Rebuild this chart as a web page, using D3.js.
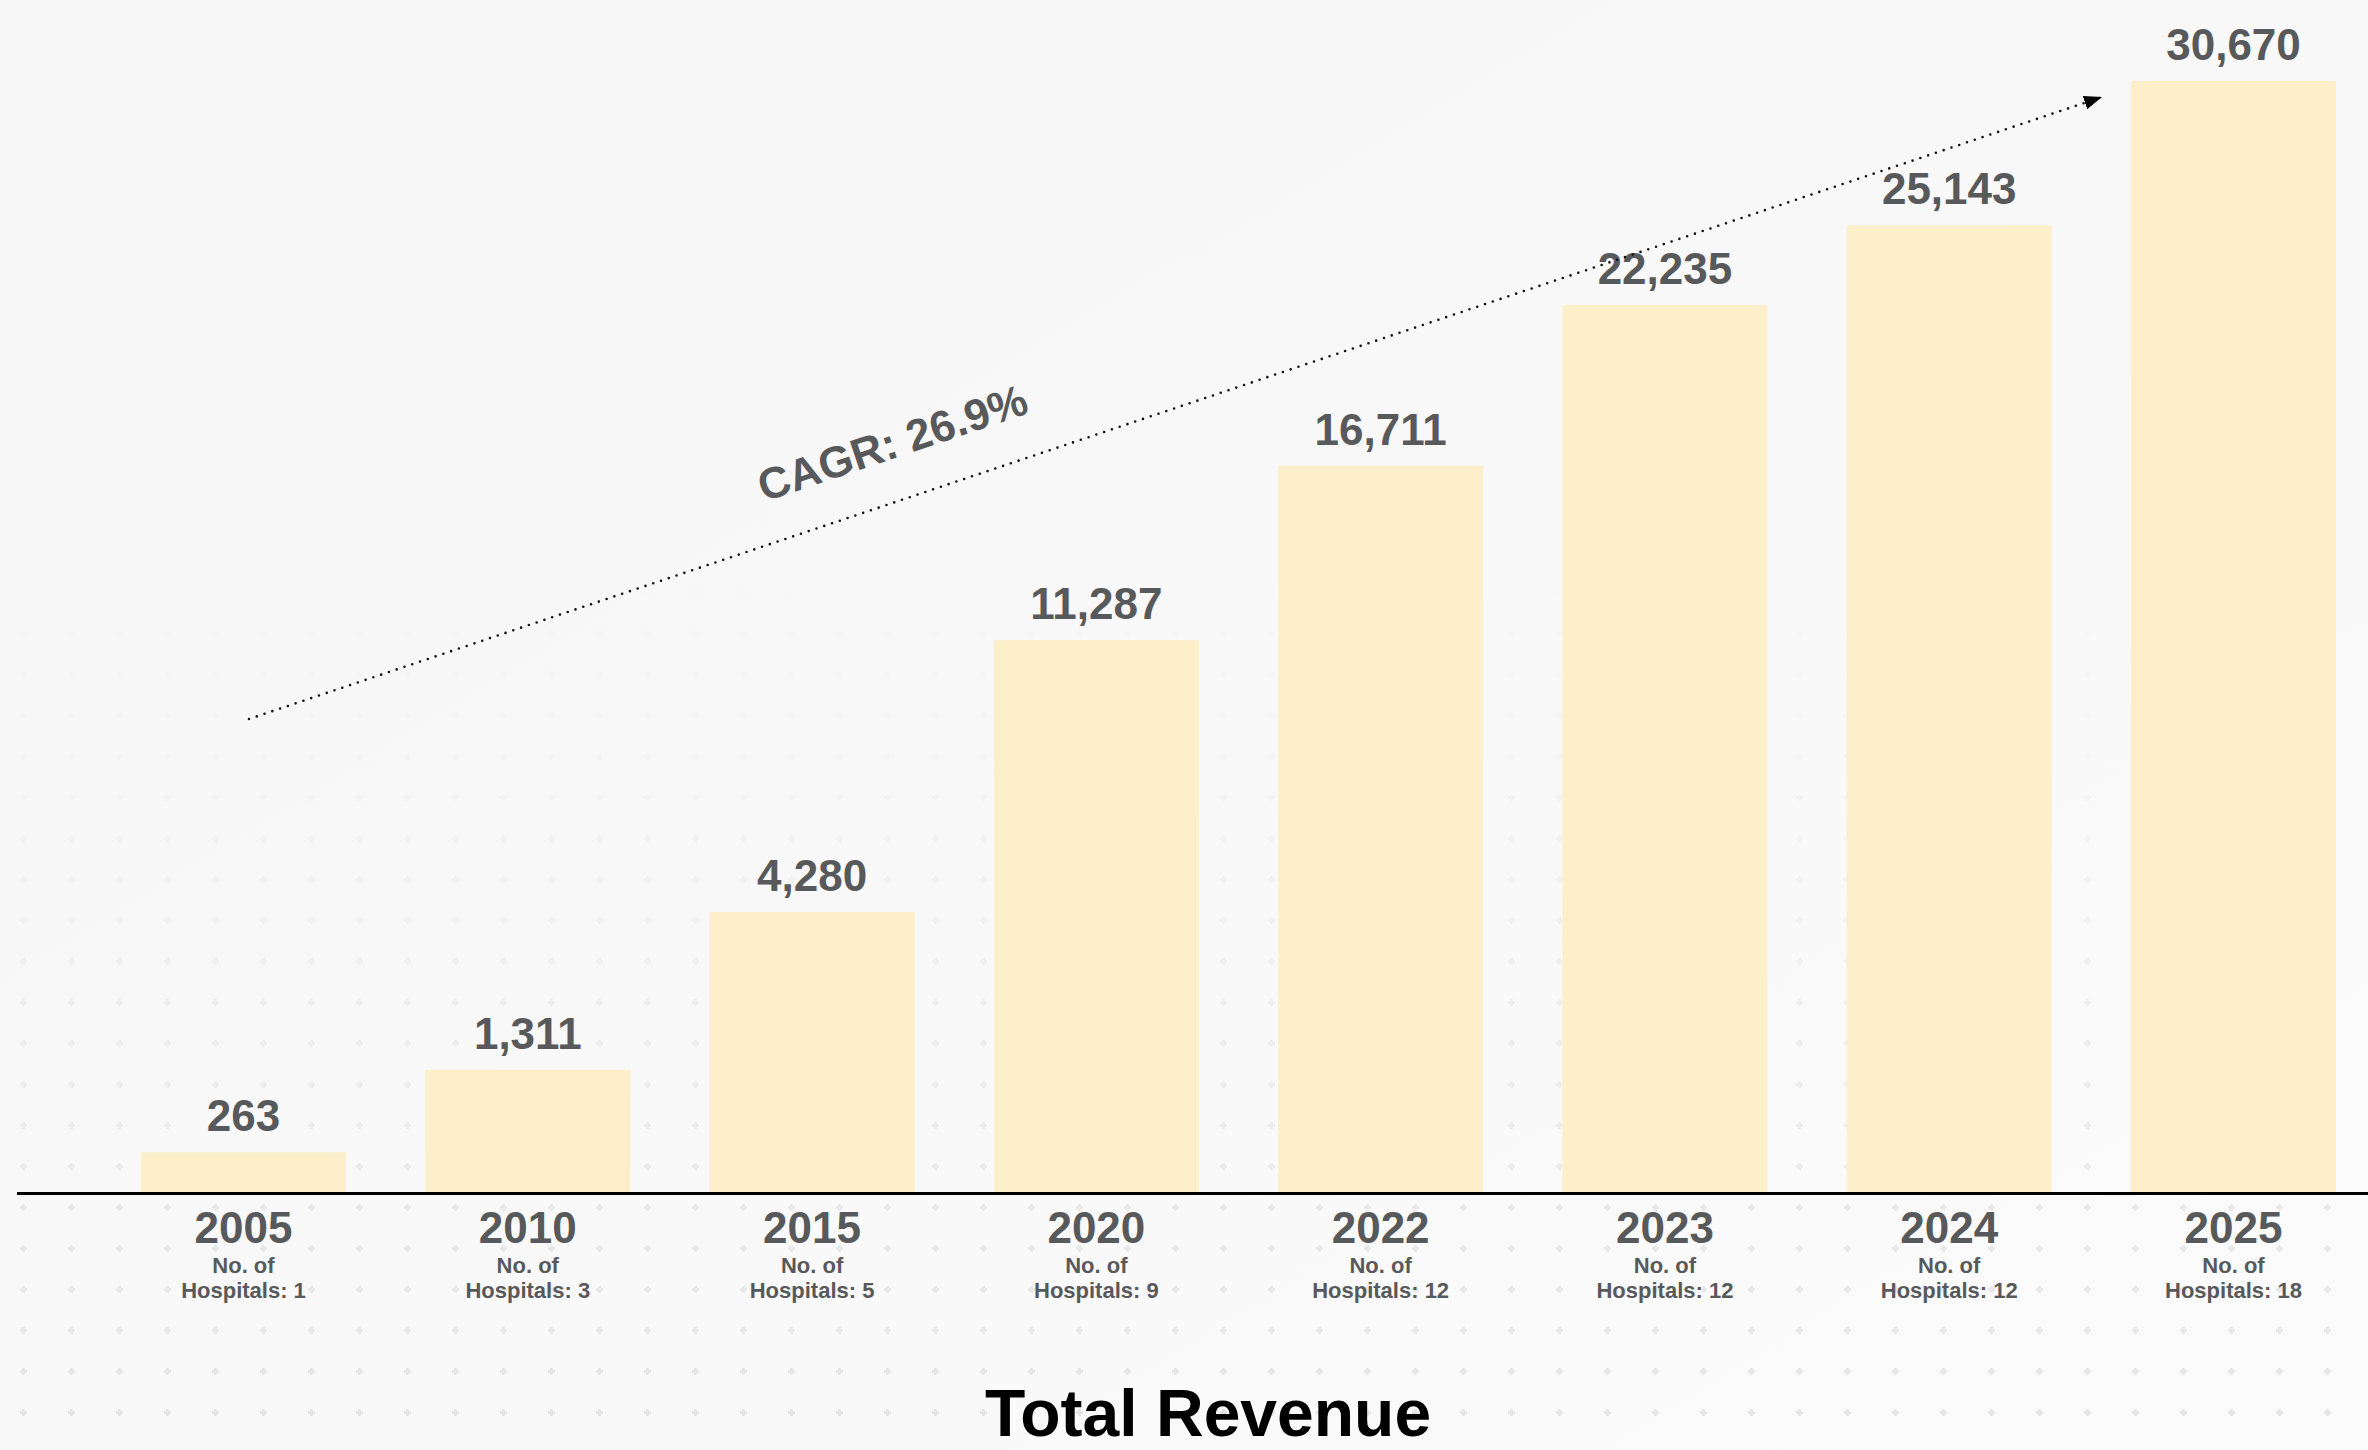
<!DOCTYPE html>
<html>
<head>
<meta charset="utf-8">
<script src="https://cdn.jsdelivr.net/npm/d3@7"></script>
<style>
  html, body { margin: 0; padding: 0; background: #f8f8f8; }
  svg { display: block; }
  text { font-family: "Liberation Sans", Arial, Helvetica, sans-serif; font-weight: bold; }
</style>
</head>
<body>
<svg id="chart"></svg>
<script>
var years = ["2005", "2010", "2015", "2020", "2022", "2023", "2024", "2025"];
var revenue = [263, 1311, 4280, 11287, 16711, 22235, 25143, 30670];
var hospitals = [1, 3, 5, 9, 12, 12, 12, 18];
var chartTitle = "Total Revenue";
var cagrLabel = "CAGR: 26.9%";

var width = 2368, height = 1450;
var barLeft = 141, barRight = 2336, barTop = 81, baseY = 1192;
var labelGrey = "#58595b";

var svg = d3.select("#chart")
  .attr("width", width)
  .attr("height", height);

var defs = svg.append("defs");

// soft background + faint dotted texture like the slide
var bg = defs.append("linearGradient").attr("id", "bg")
  .attr("x1", 0).attr("y1", 0).attr("x2", 1).attr("y2", 1);
bg.append("stop").attr("offset", "0%").attr("stop-color", "#f6f6f6");
bg.append("stop").attr("offset", "100%").attr("stop-color", "#fbfbfb");

var pat = defs.append("pattern").attr("id", "dots")
  .attr("width", 48).attr("height", 41)
  .attr("patternUnits", "userSpaceOnUse");
pat.append("rect").attr("x", 20).attr("y", 17).attr("width", 7).attr("height", 3).attr("fill", "#e4e4e4");
pat.append("rect").attr("x", 22).attr("y", 15).attr("width", 3).attr("height", 7).attr("fill", "#e4e4e4");

var fade = defs.append("linearGradient").attr("id", "fade")
  .attr("x1", 0).attr("y1", 0).attr("x2", 0).attr("y2", 1);
fade.append("stop").attr("offset", "0%").attr("stop-color", "#fff").attr("stop-opacity", 0);
fade.append("stop").attr("offset", "100%").attr("stop-color", "#fff").attr("stop-opacity", 1);
defs.append("mask").attr("id", "fadeMask")
  .append("rect").attr("x", 0).attr("y", 560).attr("width", width).attr("height", height - 560)
  .attr("fill", "url(#fade)");

svg.append("rect").attr("width", width).attr("height", height).attr("fill", "url(#bg)");
svg.append("rect").attr("x", 0).attr("y", 560).attr("width", width).attr("height", height - 560)
  .attr("fill", "url(#dots)").attr("mask", "url(#fadeMask)");

// scales
var x = d3.scaleBand()
  .domain(years)
  .range([barLeft, barRight])
  .paddingInner(0.279)
  .paddingOuter(0);

// the slide's bars are not drawn linearly, a power scale follows them closest
var y = d3.scalePow()
  .exponent(0.7)
  .domain([0, d3.max(revenue)])
  .range([baseY, barTop]);

var data = years.map(function(yr, i) {
  return {year: yr, value: revenue[i], hosp: hospitals[i]};
});

var fmt = d3.format(",");

svg.selectAll("rect.bar")
  .data(data)
  .enter().append("rect")
  .attr("class", "bar")
  .attr("x", function(d) { return x(d.year); })
  .attr("y", function(d) { return y(d.value); })
  .attr("width", x.bandwidth())
  .attr("height", function(d) { return baseY - y(d.value); })
  .attr("fill", "#fdefc9");

// baseline
svg.append("line")
  .attr("x1", 17).attr("x2", width)
  .attr("y1", baseY + 1.5).attr("y2", baseY + 1.5)
  .attr("stroke", "#000")
  .attr("stroke-width", 3);

// value labels
svg.selectAll("text.val")
  .data(data)
  .enter().append("text")
  .attr("class", "val")
  .attr("x", function(d) { return x(d.year) + x.bandwidth() / 2; })
  .attr("y", function(d) { return y(d.value) - 21; })
  .attr("text-anchor", "middle")
  .attr("font-size", 44)
  .attr("fill", labelGrey)
  .text(function(d) { return fmt(d.value); });

// category labels: year + hospital count stacked in one text block
var cat = svg.selectAll("text.cat")
  .data(data)
  .enter().append("text")
  .attr("class", "cat")
  .attr("text-anchor", "middle")
  .attr("fill", labelGrey);

cat.append("tspan")
  .attr("x", function(d) { return x(d.year) + x.bandwidth() / 2; })
  .attr("y", 1243)
  .attr("font-size", 44)
  .text(function(d) { return d.year; });

cat.append("tspan")
  .attr("x", function(d) { return x(d.year) + x.bandwidth() / 2; })
  .attr("y", 1273)
  .attr("font-size", 22)
  .text("No. of");

cat.append("tspan")
  .attr("x", function(d) { return x(d.year) + x.bandwidth() / 2; })
  .attr("y", 1298)
  .attr("font-size", 22)
  .text(function(d) { return "Hospitals: " + d.hosp; });

// CAGR arrow
defs.append("marker")
  .attr("id", "arrow")
  .attr("markerUnits", "userSpaceOnUse")
  .attr("markerWidth", 20).attr("markerHeight", 16)
  .attr("refX", 18).attr("refY", 7)
  .attr("orient", "auto")
  .append("path")
  .attr("d", "M0,0 L18,7 L0,14 Z")
  .attr("fill", "#000");

var ax0 = 249, ay0 = 719, ax1 = 2102, ay1 = 97;
svg.append("line")
  .attr("x1", ax0).attr("y1", ay0)
  .attr("x2", ax1).attr("y2", ay1)
  .attr("stroke", "#111")
  .attr("stroke-width", 2.6)
  .attr("stroke-linecap", "round")
  .attr("stroke-dasharray", "0 8.2")
  .attr("marker-end", "url(#arrow)");

var angle = Math.atan2(ay1 - ay0, ax1 - ax0) * 180 / Math.PI;
svg.append("text")
  .attr("transform", "translate(764,502) rotate(" + angle + ")")
  .attr("font-size", 44)
  .attr("fill", labelGrey)
  .text(cagrLabel);

// title
svg.append("text")
  .attr("x", 1208)
  .attr("y", 1436)
  .attr("text-anchor", "middle")
  .attr("font-size", 66)
  .attr("fill", "#000")
  .text(chartTitle);
</script>
</body>
</html>
